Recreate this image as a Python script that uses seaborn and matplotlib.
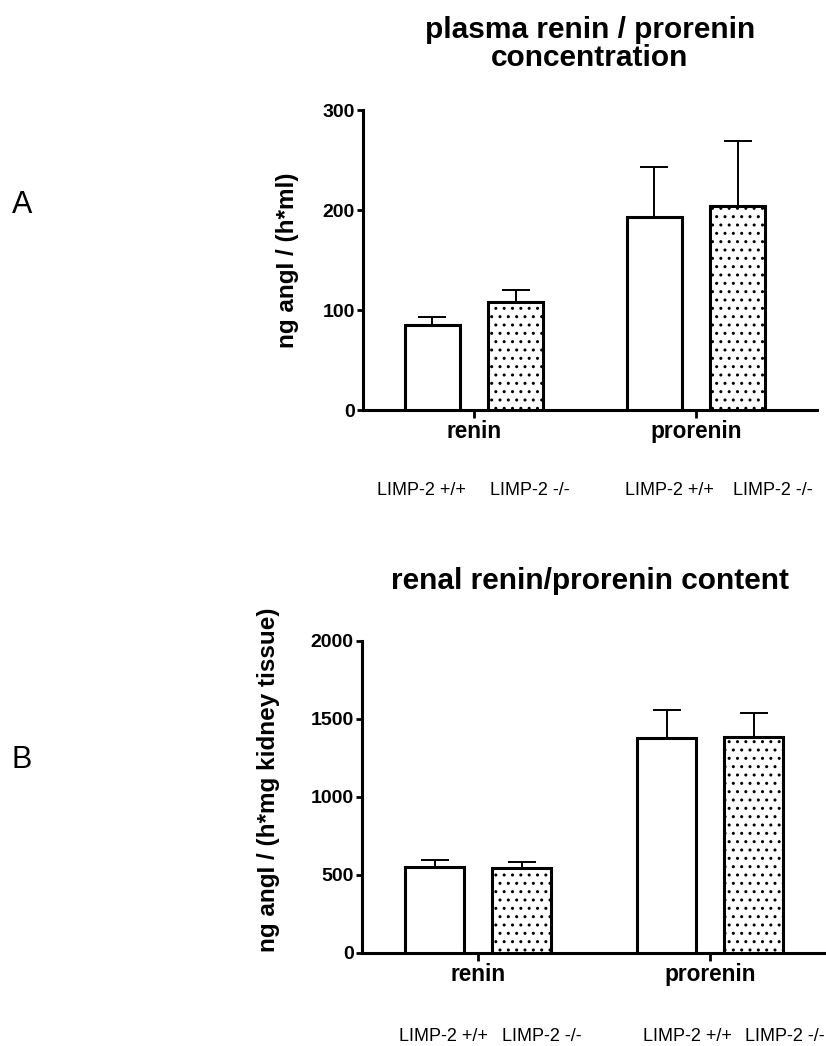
import matplotlib
matplotlib.use("Agg")
import matplotlib.pyplot as plt
import seaborn as sns
import pandas as pd
import numpy as np

categories = ["renin", "prorenin"]
genotypes = ["LIMP-2 +/+", "LIMP-2 -/-"]

plasma_wt = [85, 193]
plasma_ko = [108, 204]
plasma_wt_sem = [8, 50]
plasma_ko_sem = [12, 65]

renal_wt = [551, 1374]
renal_ko = [541, 1385]
renal_wt_sem = [43, 182]
renal_ko_sem = [40, 152]

plasma_yticks = [0, 100, 200, 300]
renal_yticks = [0, 500, 1000, 1500, 2000]

sns.set_style("ticks")
plt.rcParams['font.family'] = ['Liberation Sans', 'DejaVu Sans']
plt.rcParams['hatch.linewidth'] = 1.0
for k in ['text.color', 'axes.labelcolor', 'xtick.color', 'ytick.color', 'axes.edgecolor']:
    plt.rcParams[k] = 'black'

W, H = 826, 1046
fig = plt.figure(figsize=(W / 100, H / 100), dpi=100)


def make_df(wt, ko, wts, kos):
    rows = []
    for c, m, s in zip(categories, wt, wts):
        rows.append({"cat": c, "geno": genotypes[0], "val": m, "sem": s})
    for c, m, s in zip(categories, ko, kos):
        rows.append({"cat": c, "geno": genotypes[1], "val": m, "sem": s})
    return pd.DataFrame(rows)


def draw(ax, df, ylim, yticks, ylabel, xlim_right, label_coords, limp_x, limp_y):
    sns.barplot(data=df, x="cat", y="val", hue="geno", order=categories,
                hue_order=genotypes, palette=["white", "white"],
                edgecolor="black", linewidth=2.2, width=0.75, gap=0.333,
                errorbar=None, legend=False, ax=ax, zorder=3)
    bar_containers = list(ax.containers)
    for ci, cont in enumerate(bar_containers):
        g = genotypes[ci]
        sub = df[df.geno == g].set_index("cat").loc[categories]
        xs = [p.get_x() + p.get_width() / 2 for p in cont.patches]
        ax.errorbar(xs, sub["val"].values,
                    yerr=[np.zeros(len(xs)), sub["sem"].values],
                    fmt="none", ecolor="black", elinewidth=1.4,
                    capsize=10.4, capthick=1.4, zorder=2)
        if ci == 1:
            for p in cont.patches:
                p.set_hatch("..")
    ax.set_xlim(-0.5, xlim_right)
    ax.set_ylim(*ylim)
    ax.set_yticks(yticks)
    ax.set_yticklabels([str(t) for t in yticks], fontsize=14, fontweight="bold")
    ax.set_xticks(range(len(categories)))
    ax.set_xticklabels(categories, fontsize=16.3, fontweight="bold")
    ax.set_xlabel("")
    ax.set_ylabel(ylabel, fontsize=17.5, fontweight="bold")
    ax.yaxis.set_label_coords(*label_coords)
    sns.despine(ax=ax)
    for s in ["left", "bottom"]:
        ax.spines[s].set_linewidth(2.2)
        ax.spines[s].set_color("black")
    ax.tick_params(axis="y", length=4.5, width=2.0, pad=1.5, colors="black")
    ax.tick_params(axis="x", length=6, width=2.0, pad=1.5, colors="black")
    for xv, g in zip(limp_x, genotypes * 2):
        ax.text(xv, limp_y, g, transform=ax.get_xaxis_transform(),
                ha="center", va="center", fontsize=13, color="black")


ax1 = fig.add_axes([363 / W, 1 - 410 / H, 454 / W, 300 / H])
draw(ax1, make_df(plasma_wt, plasma_ko, plasma_wt_sem, plasma_ko_sem),
     (0, 300), plasma_yticks, "ng angI / (h*ml)", 1.545, (-0.141, 0.5),
     [-0.239, 0.253, 0.879, 1.348], -0.267)

ax2 = fig.add_axes([362 / W, 1 - 952.7 / H, 464 / W, 312 / H])
draw(ax2, make_df(renal_wt, renal_ko, renal_wt_sem, renal_ko_sem),
     (0, 2000), renal_yticks, "ng angI / (h*mg kidney tissue)", 1.5,
     (-0.177, 0.553), [-0.15, 0.273, 0.902, 1.322], -0.269)

fig.text(590 / W, 1 - 44 / H, "plasma renin / prorenin\nconcentration",
         ha="center", va="center", fontsize=21.5, fontweight="bold",
         linespacing=1.0, color="black")
fig.text(590 / W, 1 - 581 / H, "renal renin/prorenin content",
         ha="center", va="center", fontsize=21.5, fontweight="bold",
         color="black")
fig.text(22 / W, 1 - 205 / H, "A", ha="center", va="center", fontsize=22,
         color="black")
fig.text(22 / W, 1 - 760 / H, "B", ha="center", va="center", fontsize=22,
         color="black")

fig.savefig("out.png", dpi=100)
